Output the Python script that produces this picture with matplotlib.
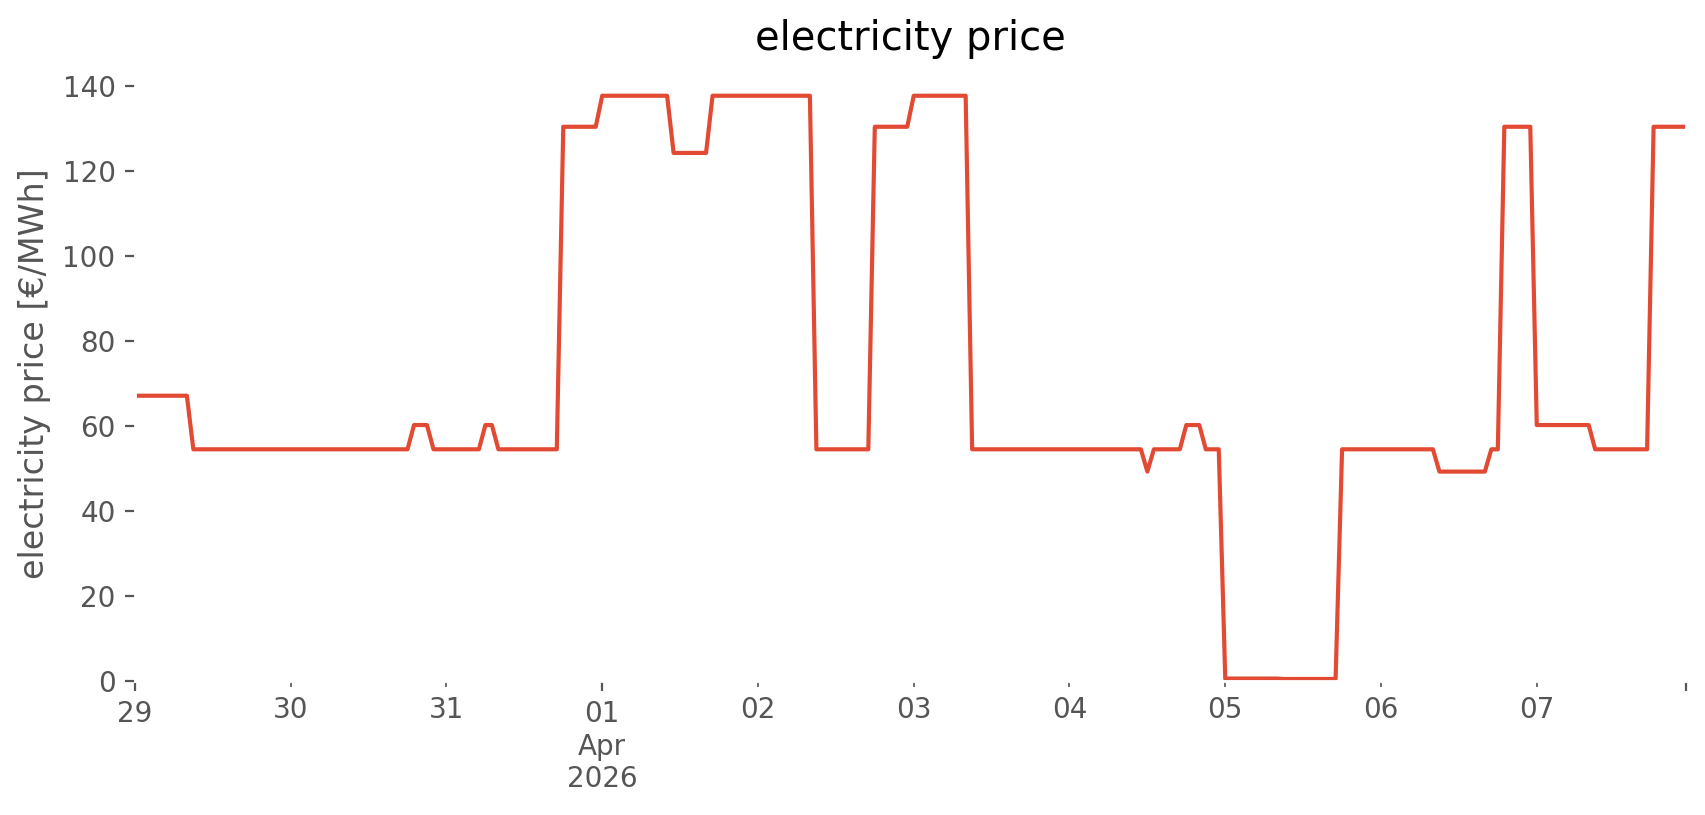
import matplotlib
matplotlib.use("Agg")
import matplotlib.pyplot as plt
import pandas as pd

# hourly electricity price [€/MWh], one list per day
mar29 = [67.06]*9 + [54.45]*15
mar30 = [54.45]*19 + [60.16]*3 + [54.45]*2
mar31 = [54.45]*6 + [60.16]*2 + [54.45]*10 + [130.35]*6
apr01 = [137.65]*11 + [124.2]*6 + [137.65]*7
apr02 = [137.65]*9 + [54.45]*9 + [130.35]*6
apr03 = [137.65]*9 + [54.45]*15
apr04 = [54.45]*12 + [49.2] + [54.45]*5 + [60.16]*3 + [54.45]*3
apr05 = [0.5]*9 + [0.4]*9 + [54.45]*6
apr06 = [54.45]*9 + [49.2]*8 + [54.45]*2 + [130.35]*5
apr07 = [60.16]*9 + [54.45]*9 + [130.35]*6

days = [mar29, mar30, mar31, apr01, apr02, apr03, apr04, apr05, apr06, apr07]
values = [v for d in days for v in d]
start = "2026-03-29 00:00"
index = pd.date_range(start, periods=len(values), freq="h")
price = pd.Series(values, index=index, name="electricity price")

DPI = 200
plt.style.use("ggplot")
fig = plt.figure(figsize=(1706/DPI, 815/DPI), dpi=DPI)
ax = fig.add_axes([0.0791, 0.1648, 0.9092, 0.7535])
price.plot(ax=ax, color="#E24A33", linewidth=1.5)
ax.set_facecolor("white")
ax.grid(False)
ax.set_ylim(bottom=0)
ax.set_xlabel("")
ax.set_ylabel("electricity price [€/MWh]")
ax.set_title("electricity price")
fig.savefig("out.png", dpi=DPI)
